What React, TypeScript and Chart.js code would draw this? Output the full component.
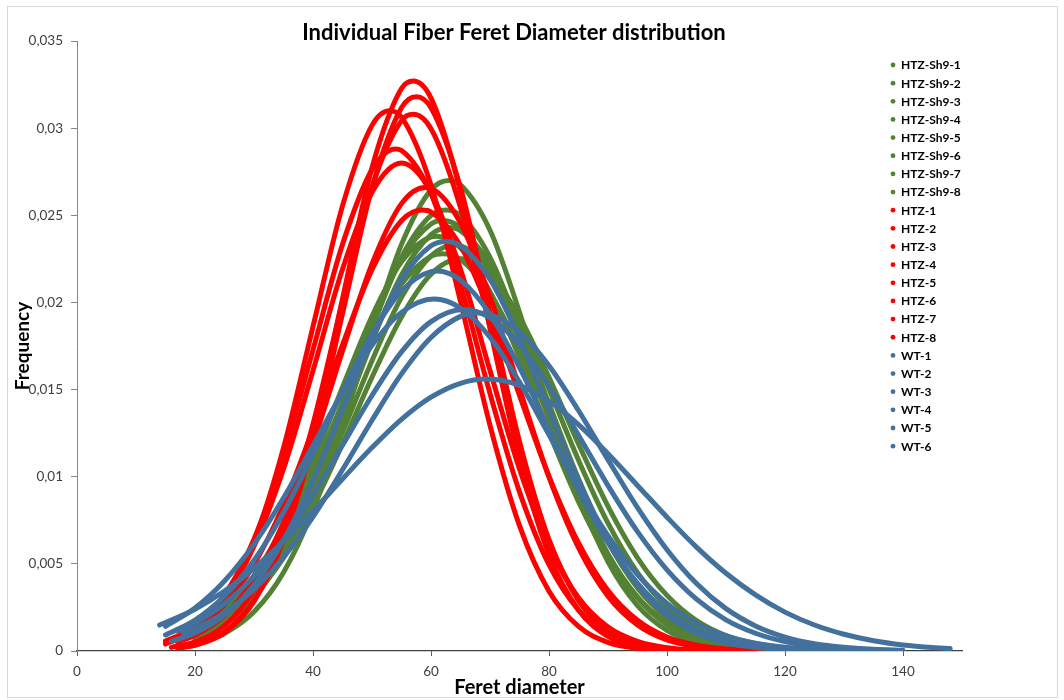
import React, { useEffect, useRef } from "react";
import { Chart, registerables } from "chart.js";

Chart.register(...registerables);

const chartTitle = "Individual Fiber Feret Diameter distribution";
const xAxisTitle = "Feret diameter";
const yAxisTitle = "Frequency";

const xTickValues = [0, 20, 40, 60, 80, 100, 120, 140];
const xTickLabels = ["0", "20", "40", "60", "80", "100", "120", "140"];
const yTickValues = [0, 0.005, 0.01, 0.015, 0.02, 0.025, 0.03, 0.035];
const yTickLabels = ["0", "0,005", "0,01", "0,015", "0,02", "0,025", "0,03", "0,035"];

type Pt = [number, number];

// HTZ-Sh9 series (Feret diameter, frequency)
const HTZ_Sh9_1: Pt[] = [[22,0.00058],[25,0.00100],[30,0.00225],[35,0.00451],[40,0.00807],[45,0.01288],[50,0.01836],[55,0.02333],[60,0.02646],[63,0.0270],[65,0.02675],[70,0.02414],[75,0.01944],[80,0.01396],[85,0.00894],[90,0.00512],[95,0.00261],[100,0.00119],[105,0.00048],[110,0.00018],[115,0.00006],[120,0.00002]];
const HTZ_Sh9_2: Pt[] = [[20,0.00068],[25,0.00151],[30,0.00305],[35,0.00556],[40,0.00918],[45,0.01369],[50,0.01849],[55,0.02259],[60,0.02499],[62.5,0.0253],[65,0.02499],[70,0.02259],[75,0.01849],[80,0.01369],[85,0.00918],[90,0.00556],[95,0.00305],[100,0.00151],[105,0.00068],[110,0.00028],[115,0.00010],[120,0.00003]];
const HTZ_Sh9_3: Pt[] = [[21,0.00100],[25,0.00182],[30,0.00351],[35,0.00615],[40,0.00981],[45,0.01425],[50,0.01877],[55,0.02250],[60,0.02450],[62,0.0247],[65,0.02428],[70,0.02186],[75,0.01791],[80,0.01331],[85,0.00902],[90,0.00555],[95,0.00310],[100,0.00158],[105,0.00073],[110,0.00031],[115,0.00012],[120,0.00004]];
const HTZ_Sh9_4: Pt[] = [[22,0.00107],[25,0.00166],[30,0.00321],[35,0.00566],[40,0.00909],[45,0.01329],[50,0.01774],[55,0.02158],[60,0.02389],[63,0.0243],[65,0.02412],[70,0.02219],[75,0.01859],[80,0.01419],[85,0.00989],[90,0.00627],[95,0.00362],[100,0.00191],[105,0.00091],[110,0.00040],[115,0.00016],[120,0.00006],[125,0.00002]];
const HTZ_Sh9_5: Pt[] = [[20,0.00121],[25,0.00239],[30,0.00434],[35,0.00718],[40,0.01089],[45,0.01513],[50,0.01921],[55,0.02233],[60,0.02376],[61,0.0238],[65,0.02313],[70,0.02061],[75,0.01683],[80,0.01254],[85,0.00857],[90,0.00537],[95,0.00306],[100,0.00161],[105,0.00077],[110,0.00034],[115,0.00014],[120,0.00005]];
const HTZ_Sh9_6: Pt[] = [[23,0.00131],[25,0.00173],[30,0.00323],[35,0.00553],[40,0.00869],[45,0.01256],[50,0.01666],[55,0.02029],[60,0.02267],[64,0.0233],[65,0.02326],[70,0.02190],[75,0.01894],[80,0.01503],[85,0.01095],[90,0.00734],[95,0.00450],[100,0.00254],[105,0.00131],[110,0.00062],[115,0.00027],[120,0.00011],[125,0.00004],[130,0.00001]];
const HTZ_Sh9_7: Pt[] = [[21,0.00147],[25,0.00244],[30,0.00428],[35,0.00693],[40,0.01035],[45,0.01422],[50,0.01802],[55,0.02105],[60,0.02265],[62,0.0228],[65,0.02247],[70,0.02054],[75,0.01730],[80,0.01343],[85,0.00962],[90,0.00634],[95,0.00385],[100,0.00216],[105,0.00111],[110,0.00053],[115,0.00023],[120,0.00009],[125,0.00003],[130,0.00001]];
const HTZ_Sh9_8: Pt[] = [[23,0.00135],[25,0.00175],[30,0.00319],[35,0.00535],[40,0.00830],[45,0.01188],[50,0.01571],[55,0.01917],[60,0.02162],[65,0.0225],[70,0.02162],[75,0.01917],[80,0.01571],[85,0.01188],[90,0.00830],[95,0.00535],[100,0.00319],[105,0.00175],[110,0.00089],[115,0.00042],[120,0.00018],[125,0.00007],[130,0.00003],[140,0.00000]];

// HTZ series
const HTZ_1: Pt[] = [[18,0.00020],[20,0.00033],[25,0.00105],[30,0.00284],[35,0.00647],[40,0.01243],[45,0.02021],[50,0.02773],[55,0.03227],[57,0.0327],[60,0.03172],[65,0.02636],[70,0.01851],[75,0.01102],[80,0.00553],[85,0.00235],[90,0.00084],[95,0.00026],[100,0.00007]];
const HTZ_2: Pt[] = [[17,0.00017],[20,0.00036],[25,0.00111],[30,0.00289],[35,0.00638],[40,0.01202],[45,0.01936],[50,0.02658],[55,0.03117],[57.5,0.0318],[60,0.03117],[65,0.02658],[70,0.01936],[75,0.01202],[80,0.00638],[85,0.00289],[90,0.00111],[95,0.00036],[100,0.00010],[105,0.00002]];
const HTZ_3: Pt[] = [[15,0.00040],[20,0.00116],[25,0.00290],[30,0.00628],[35,0.01165],[40,0.01861],[45,0.02554],[50,0.03016],[53,0.0310],[55,0.03063],[60,0.02673],[65,0.02006],[70,0.01295],[75,0.00719],[80,0.00343],[85,0.00141],[90,0.00050],[95,0.00015],[100,0.00004]];
const HTZ_4: Pt[] = [[16,0.00021],[20,0.00052],[25,0.00145],[30,0.00350],[35,0.00727],[40,0.01301],[45,0.02004],[50,0.02661],[55,0.03043],[57,0.0308],[60,0.02997],[65,0.02544],[70,0.01861],[75,0.01172],[80,0.00635],[85,0.00298],[90,0.00120],[95,0.00042],[100,0.00012],[105,0.00003]];
const HTZ_5: Pt[] = [[15,0.00055],[20,0.00141],[25,0.00322],[30,0.00642],[35,0.01123],[40,0.01728],[45,0.02333],[50,0.02762],[54,0.0288],[55,0.02872],[60,0.02624],[65,0.02102],[70,0.01477],[75,0.00913],[80,0.00495],[85,0.00235],[90,0.00098],[95,0.00036],[100,0.00012],[105,0.00003]];
const HTZ_6: Pt[] = [[16,0.00066],[20,0.00137],[25,0.00305],[30,0.00601],[35,0.01045],[40,0.01609],[45,0.02190],[50,0.02632],[55,0.0280],[60,0.02632],[65,0.02190],[70,0.01609],[75,0.01045],[80,0.00601],[85,0.00305],[90,0.00137],[95,0.00055],[100,0.00019],[105,0.00006],[110,0.00002]];
const HTZ_7: Pt[] = [[17,0.00053],[20,0.00090],[25,0.00204],[30,0.00411],[35,0.00739],[40,0.01192],[45,0.01721],[50,0.02221],[55,0.02567],[59,0.0266],[60,0.02655],[65,0.02455],[70,0.02032],[75,0.01506],[80,0.00998],[85,0.00593],[90,0.00314],[95,0.00149],[100,0.00063],[105,0.00024],[110,0.00008],[115,0.00002]];
const HTZ_8: Pt[] = [[15,0.00057],[20,0.00130],[25,0.00267],[30,0.00497],[35,0.00837],[40,0.01275],[45,0.01756],[50,0.02188],[55,0.02469],[58.5,0.0253],[60,0.02519],[65,0.02325],[70,0.01941],[75,0.01467],[80,0.01002],[85,0.00620],[90,0.00347],[95,0.00176],[100,0.00080],[105,0.00033],[110,0.00012],[115,0.00004],[120,0.00001]];

// WT series
const WT_1: Pt[] = [[16,0.00056],[20,0.00103],[25,0.00206],[30,0.00378],[35,0.00635],[40,0.00979],[45,0.01384],[50,0.01793],[55,0.02132],[60,0.02325],[62.5,0.0235],[65,0.02325],[70,0.02132],[75,0.01793],[80,0.01384],[85,0.00979],[90,0.00635],[95,0.00378],[100,0.00206],[105,0.00103],[110,0.00047],[115,0.00020],[120,0.00008],[125,0.00003],[130,0.00001]];
const WT_2: Pt[] = [[15,0.00092],[20,0.00177],[25,0.00315],[30,0.00519],[35,0.00795],[40,0.01129],[45,0.01488],[50,0.01820],[55,0.02066],[60,0.02177],[61,0.0218],[65,0.02128],[70,0.01932],[75,0.01627],[80,0.01272],[85,0.00922],[90,0.00621],[95,0.00388],[100,0.00225],[105,0.00121],[110,0.00060],[115,0.00028],[120,0.00012],[125,0.00005],[130,0.00002],[135,0.00001]];
const WT_3: Pt[] = [[15,0.00142],[20,0.00247],[25,0.00402],[30,0.00613],[35,0.00878],[40,0.01179],[45,0.01485],[50,0.01754],[55,0.01943],[60.5,0.0202],[65,0.01968],[70,0.01800],[75,0.01543],[80,0.01240],[85,0.00935],[90,0.00662],[95,0.00439],[100,0.00273],[105,0.00160],[110,0.00087],[115,0.00045],[120,0.00022],[125,0.00010],[130,0.00004],[135,0.00002]];
const WT_4: Pt[] = [[17,0.00115],[20,0.00161],[25,0.00271],[30,0.00428],[35,0.00638],[40,0.00894],[45,0.01180],[50,0.01466],[55,0.01716],[60,0.01890],[65.5,0.0196],[70,0.01913],[75,0.01757],[80,0.01520],[85,0.01238],[90,0.00949],[95,0.00685],[100,0.00466],[105,0.00298],[110,0.00179],[115,0.00102],[120,0.00054],[125,0.00027],[130,0.00013],[135,0.00006],[140,0.00002]];
const WT_5: Pt[] = [[18,0.00102],[20,0.00128],[25,0.00220],[30,0.00354],[35,0.00538],[40,0.00770],[45,0.01040],[50,0.01324],[55,0.01590],[60,0.01799],[65,0.01920],[68,0.0194],[70,0.01931],[75,0.01831],[80,0.01637],[85,0.01380],[90,0.01097],[95,0.00822],[100,0.00581],[105,0.00387],[110,0.00243],[115,0.00144],[120,0.00080],[125,0.00042],[130,0.00021],[135,0.00010],[140,0.00004]];
const WT_6: Pt[] = [[14,0.00149],[20,0.00240],[25,0.00344],[30,0.00475],[35,0.00629],[40,0.00803],[45,0.00987],[50,0.01167],[55,0.01329],[60,0.01456],[65,0.01536],[69.5,0.0156],[75,0.01524],[80,0.01434],[85,0.01299],[90,0.01132],[95,0.00950],[100,0.00768],[105,0.00596],[110,0.00446],[115,0.00322],[120,0.00223],[125,0.00149],[130,0.00096],[135,0.00059],[140,0.00035],[145,0.00020],[148,0.00014]];

const greenSeries: [string, Pt[]][] = [
  ["HTZ-Sh9-1", HTZ_Sh9_1], ["HTZ-Sh9-2", HTZ_Sh9_2], ["HTZ-Sh9-3", HTZ_Sh9_3], ["HTZ-Sh9-4", HTZ_Sh9_4],
  ["HTZ-Sh9-5", HTZ_Sh9_5], ["HTZ-Sh9-6", HTZ_Sh9_6], ["HTZ-Sh9-7", HTZ_Sh9_7], ["HTZ-Sh9-8", HTZ_Sh9_8],
];
const redSeries: [string, Pt[]][] = [
  ["HTZ-1", HTZ_1], ["HTZ-2", HTZ_2], ["HTZ-3", HTZ_3], ["HTZ-4", HTZ_4],
  ["HTZ-5", HTZ_5], ["HTZ-6", HTZ_6], ["HTZ-7", HTZ_7], ["HTZ-8", HTZ_8],
];
const blueSeries: [string, Pt[]][] = [
  ["WT-1", WT_1], ["WT-2", WT_2], ["WT-3", WT_3], ["WT-4", WT_4], ["WT-5", WT_5], ["WT-6", WT_6],
];

const GREEN = "#548235";
const RED = "#FF0000";
const BLUE = "#41719C";

const overlayPlugin = {
  id: "overlay",
  afterDraw(chart: any) {
    const ctx = chart.ctx as CanvasRenderingContext2D;
    ctx.save();
    ctx.fillStyle = "#000000";
    ctx.font = "bold 22px Lato";
    ctx.textAlign = "center";
    ctx.textBaseline = "middle";
    ctx.fillText(chartTitle, 514, 33);

    ctx.font = "bold 12px Lato";
    ctx.textAlign = "left";
    chart.data.datasets.forEach((ds: any, i: number) => {
      const y = 65 + i * 18.15;
      ctx.fillStyle = ds.borderColor;
      ctx.beginPath();
      ctx.arc(893, y, 2.4, 0, Math.PI * 2);
      ctx.fill();
      ctx.fillStyle = "#000000";
      ctx.fillText(ds.label, 901, y + 0.5);
    });
    ctx.restore();
  },
};

export default function App() {
  const canvasRef = useRef<HTMLCanvasElement | null>(null);

  useEffect(() => {
    if (!canvasRef.current) return;
    const all: { label: string; pts: Pt[]; color: string }[] = [
      ...greenSeries.map(([l, p]) => ({ label: l, pts: p, color: GREEN })),
      ...redSeries.map(([l, p]) => ({ label: l, pts: p, color: RED })),
      ...blueSeries.map(([l, p]) => ({ label: l, pts: p, color: BLUE })),
    ];
    const datasets = all.map((s, i) => ({
      label: s.label,
      data: s.pts.map(([x, y]) => ({ x, y })),
      showLine: true,
      borderColor: s.color,
      backgroundColor: s.color,
      borderWidth: 5,
      pointRadius: 0,
      pointHoverRadius: 0,
      borderCapStyle: "round" as const,
      borderJoinStyle: "round" as const,
      cubicInterpolationMode: "monotone" as const,
      order: 100 - i,
    }));

    const chart = new Chart(canvasRef.current, {
      type: "scatter",
      data: { datasets },
      options: {
        responsive: false,
        animation: false,
        events: [],
        layout: { padding: { left: 0, top: 41, right: 102, bottom: 0 } },
        font: { family: "Lato" },
        plugins: {
          legend: { display: false },
          title: { display: false },
          tooltip: { enabled: false },
        },
        scales: {
          x: {
            type: "linear",
            min: 0,
            max: 150,
            afterBuildTicks: (axis: any) => {
              axis.ticks = xTickValues.map((v) => ({ value: v }));
            },
            afterFit: (axis: any) => {
              axis.height = 49;
            },
            ticks: {
              callback: (_v: any, i: number) => xTickLabels[i],
              font: { family: "Lato", size: 13.5 },
              color: "#404040",
              padding: 8,
              maxRotation: 0,
            },
            grid: { drawOnChartArea: false, drawTicks: true, tickLength: 5, color: "#595959" },
            border: { display: true, color: "#404040", width: 1.3 },
            title: {
              display: true,
              text: xAxisTitle,
              font: { family: "Lato", size: 20, weight: "bold" },
              color: "#000000",
              padding: { top: 0, bottom: 0 },
            },
          },
          y: {
            type: "linear",
            min: 0,
            max: 0.035,
            afterBuildTicks: (axis: any) => {
              axis.ticks = yTickValues.map((v) => ({ value: v }));
            },
            afterFit: (axis: any) => {
              axis.width = 77;
            },
            ticks: {
              callback: (_v: any, i: number) => yTickLabels[i],
              font: { family: "Lato", size: 13.5 },
              color: "#404040",
              padding: 8,
            },
            grid: { drawOnChartArea: false, drawTicks: true, tickLength: 6, color: "#868686" },
            border: { display: true, color: "#868686", width: 1 },
            title: {
              display: true,
              text: yAxisTitle,
              font: { family: "Lato", size: 19, weight: "bold" },
              color: "#000000",
              padding: { top: 11, bottom: 0 },
            },
          },
        },
      },
      plugins: [overlayPlugin],
    });
    return () => chart.destroy();
  }, []);

  return (
    <div style={{ position: "absolute", left: 0, top: 0, width: 1064, height: 700, background: "#ffffff" }}>
      <canvas ref={canvasRef} width={1064} height={700} style={{ width: 1064, height: 700, display: "block" }} />
      <div
        style={{
          position: "absolute",
          left: 7,
          top: 6,
          width: 1049,
          height: 690,
          border: "1px solid #d9d9d9",
          pointerEvents: "none",
        }}
      />
    </div>
  );
}
